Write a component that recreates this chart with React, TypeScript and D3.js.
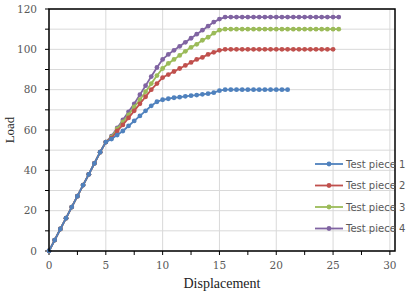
import * as d3 from "d3";

const W = 412;
const H = 292;
const MARGIN = { top: 9, right: 17, bottom: 41, left: 49 };

const seriesNames = ["Test piece 1", "Test piece 2", "Test piece 3", "Test piece 4"];
const colors = ["#4f81bd", "#c0504d", "#9bbb59", "#8064a2"];

// shared elastic part, displacement step 0.5
const elasticX = [0, 0.5, 1, 1.5, 2, 2.5, 3, 3.5, 4, 4.5, 5];
const elasticY = [0, 5.4, 10.9, 16.3, 21.8, 27.2, 32.7, 38, 43.5, 49, 54];

const xPiece1 = [5.5, 6, 6.5, 7, 7.5, 8, 8.5, 9, 9.5, 10, 10.5, 11, 11.5, 12, 12.5, 13, 13.5, 14, 14.5, 15, 15.5, 16, 16.5, 17, 17.5, 18, 18.5, 19, 19.5, 20, 20.5, 21];
const yPiece1 = [55.5, 57.5, 59.5, 62, 64.5, 67, 69.5, 72, 74, 75, 75.5, 76, 76.3, 76.7, 77, 77.3, 77.7, 78, 78.5, 79.5, 80, 80, 80, 80, 80, 80, 80, 80, 80, 80, 80, 80];

const xPiece2 = [5.5, 6, 6.5, 7, 7.5, 8, 8.5, 9, 9.5, 10, 10.5, 11, 11.5, 12, 12.5, 13, 13.5, 14, 14.5, 15, 15.5, 16, 16.5, 17, 17.5, 18, 18.5, 19, 19.5, 20, 20.5, 21, 21.5, 22, 22.5, 23, 23.5, 24, 24.5, 25];
const yPiece2 = [56, 59.5, 62.5, 66, 69.5, 73, 76.5, 80, 83, 86, 87.5, 89, 90.5, 92, 93.5, 95, 96, 97.5, 98.5, 99.5, 100, 100, 100, 100, 100, 100, 100, 100, 100, 100, 100, 100, 100, 100, 100, 100, 100, 100, 100, 100];

const xPiece3 = [5.5, 6, 6.5, 7, 7.5, 8, 8.5, 9, 9.5, 10, 10.5, 11, 11.5, 12, 12.5, 13, 13.5, 14, 14.5, 15, 15.5, 16, 16.5, 17, 17.5, 18, 18.5, 19, 19.5, 20, 20.5, 21, 21.5, 22, 22.5, 23, 23.5, 24, 24.5, 25, 25.5];
const yPiece3 = [56.5, 60.5, 64, 67.5, 71.5, 75, 79, 83, 87, 90.5, 93, 95, 97, 99, 101, 102.5, 104.5, 106, 108, 109.5, 110, 110, 110, 110, 110, 110, 110, 110, 110, 110, 110, 110, 110, 110, 110, 110, 110, 110, 110, 110, 110];

const xPiece4 = [5.5, 6, 6.5, 7, 7.5, 8, 8.5, 9, 9.5, 10, 10.5, 11, 11.5, 12, 12.5, 13, 13.5, 14, 14.5, 15, 15.5, 16, 16.5, 17, 17.5, 18, 18.5, 19, 19.5, 20, 20.5, 21, 21.5, 22, 22.5, 23, 23.5, 24, 24.5, 25, 25.5];
const yPiece4 = [57, 61, 65, 69, 73, 77.5, 82, 86.5, 91, 95, 97.5, 99.5, 101.5, 103.5, 105.5, 107.5, 109.5, 111.5, 113.5, 115, 116, 116, 116, 116, 116, 116, 116, 116, 116, 116, 116, 116, 116, 116, 116, 116, 116, 116, 116, 116, 116];

const xTicks = [0, 5, 10, 15, 20, 25, 30];
const yTicks = [0, 20, 40, 60, 80, 100, 120];

type Pt = { x: number; y: number };

const build = (xs: number[], ys: number[]): Pt[] =>
  elasticX.map((x, i) => ({ x, y: elasticY[i] })).concat(xs.map((x, i) => ({ x, y: ys[i] })));

const series: Pt[][] = [
  build(xPiece1, yPiece1),
  build(xPiece2, yPiece2),
  build(xPiece3, yPiece3),
  build(xPiece4, yPiece4),
];

export default function App() {
  const bw = W - MARGIN.left - MARGIN.right;
  const bh = H - MARGIN.top - MARGIN.bottom;

  const xScale = d3.scaleLinear().domain([0, 30.45]).range([0, bw]);
  const yScale = d3.scaleLinear().domain([0, 120]).range([bh, 0]);

  const line = d3
    .line<Pt>()
    .x((d) => xScale(d.x))
    .y((d) => yScale(d.y));

  const minorY = d3.range(0, 121, 10);
  const minorX = d3.range(0, 30.1, 2.5);

  return (
    <svg width={W} height={H} style={{ position: "absolute", left: 0, top: 0, background: "#fff" }}>
      <g transform={`translate(${MARGIN.left},${MARGIN.top})`}>
        {minorY.map((t) => (
          <line key={"gy" + t} x1={0} x2={bw} y1={yScale(t)} y2={yScale(t)} stroke="#d9d9d9" strokeWidth={1} />
        ))}
        {xTicks.map((t) => (
          <line key={"gx" + t} x1={xScale(t)} x2={xScale(t)} y1={0} y2={bh} stroke="#d9d9d9" strokeWidth={1} />
        ))}
        {minorY.map((t) => (
          <line key={"ty" + t} x1={-4} x2={0} y1={yScale(t)} y2={yScale(t)} stroke="#000" strokeWidth={1} />
        ))}
        {minorX.map((t) => (
          <line key={"tx" + t} x1={xScale(t)} x2={xScale(t)} y1={bh} y2={bh + 4} stroke="#000" strokeWidth={1} />
        ))}
        {series
          .map((pts, si) => (
            <g key={si}>
              <path d={line(pts) ?? ""} fill="none" stroke={colors[si]} strokeWidth={1.8} />
              {pts.map((p, i) => (
                <circle key={i} cx={xScale(p.x)} cy={yScale(p.y)} r={2.4} fill={colors[si]} />
              ))}
            </g>
          ))
          .reverse()}
        <rect x={0} y={0} width={bw} height={bh} fill="none" stroke="#000" strokeWidth={1.5} />
        {yTicks.map((t) => (
          <text
            key={"ly" + t}
            x={-12}
            y={yScale(t)}
            dy="0.35em"
            textAnchor="end"
            fontFamily="DejaVu Serif"
            fontSize={10.5}
            fill="#595959"
          >
            {t}
          </text>
        ))}
        {xTicks.map((t) => (
          <text
            key={"lx" + t}
            x={xScale(t)}
            y={bh + 18}
            textAnchor="middle"
            fontFamily="DejaVu Serif"
            fontSize={10.5}
            fill="#595959"
          >
            {t}
          </text>
        ))}
        <text
          x={bw / 2}
          y={bh + 37}
          textAnchor="middle"
          fontFamily="Liberation Serif"
          fontSize={14}
          fill="#222"
        >
          Displacement
        </text>
        <text
          transform={`translate(${-35},${bh / 2}) rotate(-90)`}
          textAnchor="middle"
          fontFamily="Liberation Serif"
          fontSize={13}
          fill="#222"
        >
          Load
        </text>
        {seriesNames.map((name, i) => {
          const ly = 155 + i * 21.5;
          const lx = 266;
          return (
            <g key={name}>
              <line x1={lx} x2={lx + 28} y1={ly} y2={ly} stroke={colors[i]} strokeWidth={1.8} />
              <circle cx={lx + 14} cy={ly} r={2.4} fill={colors[i]} />
              <text x={lx + 31} y={ly} dy="0.35em" fontFamily="DejaVu Sans" fontSize={10} fill="#595959">
                {name}
              </text>
            </g>
          );
        })}
      </g>
    </svg>
  );
}
